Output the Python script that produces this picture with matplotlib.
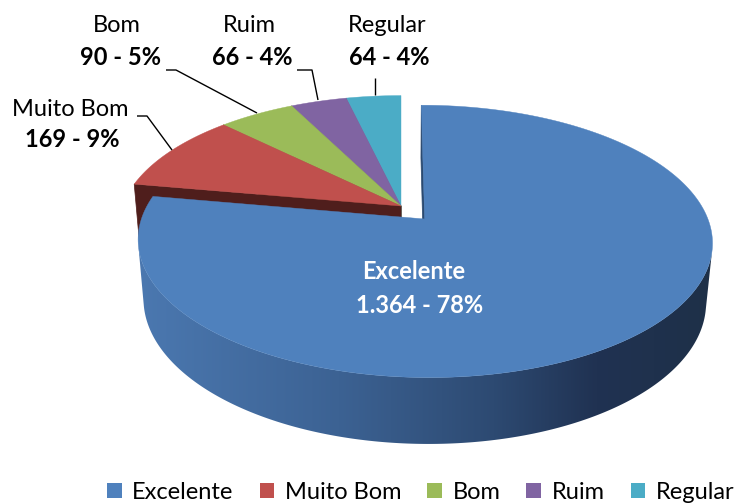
import numpy as np
import matplotlib
matplotlib.use("Agg")
import matplotlib.pyplot as plt
from matplotlib.patches import Polygon, Patch
from matplotlib.colors import LinearSegmentedColormap

# ---- data ----
categories = ["Excelente", "Muito Bom", "Bom", "Ruim", "Regular"]
values = [1364, 169, 90, 66, 64]
value_labels = ["1.364 - 78%", "169 - 9%", "90 - 5%", "66 - 4%", "64 - 4%"]
colors = ["#4F81BD", "#C0504D", "#9BBB59", "#8064A2", "#4BACC6"]
side_colors = ["#2B4A70", "#4F1E1C", "#5A6E33", "#4A3A60", "#2C6475"]

plt.rcParams['font.family'] = ['Lato', 'DejaVu Sans']

W, Hpx = 739, 504
fig = plt.figure(figsize=(W / 100, Hpx / 100), dpi=100)
ax = fig.add_axes([0, 0, 1, 1])
ax.set_xlim(0, W)
ax.set_ylim(Hpx, 0)
ax.axis('off')

# ---- 3D projection parameters ----
alpha = np.radians(27.4)
sa, ca = np.sin(alpha), np.cos(alpha)
D = 5.49
F = 1530.0
X0, Y0 = 401.0, 206.0
HGT = 0.24
EXPLODE = 0.13


def proj(X, Z, bottom=False):
    X = np.asarray(X, float)
    Z = np.asarray(Z, float)
    Y = -HGT if bottom else 0.0
    w = D + Z * ca - Y * sa
    v = Y * ca + Z * sa
    return X0 + F * X / w, Y0 - F * v / w


cam = np.array([0.0, D * sa, -D * ca])

# angles: start at 90 deg, go clockwise
fracs = np.array(values, float) / sum(values)
starts = 90 - 360 * np.concatenate([[0], np.cumsum(fracs)[:-1]])
ends = starts - 360 * fracs


def slice_center(i):
    if i != 0:
        return 0.0, 0.0
    mid = np.radians((starts[0] + ends[0]) / 2)
    return EXPLODE * np.cos(mid), EXPLODE * np.sin(mid)


def rim(i, th_deg, bottom=False):
    cx, cz = slice_center(i)
    th = np.radians(th_deg)
    return proj(cx + np.cos(th), cz + np.sin(th), bottom)


def top_poly(i):
    cx, cz = slice_center(i)
    th = np.linspace(starts[i], ends[i], 300)
    xs, ys = rim(i, th)
    px, py = proj(cx, cz)
    return np.column_stack([np.r_[px, xs], np.r_[py, ys]])


def radial_face(i, th_deg):
    cx, cz = slice_center(i)
    th = np.radians(th_deg)
    pts3 = [(cx, cz, False), (cx + np.cos(th), cz + np.sin(th), False),
            (cx + np.cos(th), cz + np.sin(th), True), (cx, cz, True)]
    return np.array([proj(X, Z, b) for X, Z, b in pts3], float)


def radial_visible(i, th_deg, is_max):
    cx, cz = slice_center(i)
    th = np.radians(th_deg)
    if is_max:
        n = np.array([-np.sin(th), 0, np.cos(th)])
    else:
        n = np.array([np.sin(th), 0, -np.cos(th)])
    p = np.array([cx + 0.5 * np.cos(th), -HGT / 2, cz + 0.5 * np.sin(th)])
    return np.dot(n, cam - p) > 0


def side_visible_range(i):
    cx, cz = slice_center(i)
    th = np.linspace(starts[i], ends[i], 2000)
    t = np.radians(th)
    P = np.column_stack([cx + np.cos(t), np.zeros_like(t), cz + np.sin(t)])
    N = np.column_stack([np.cos(t), np.zeros_like(t), np.sin(t)])
    vis = np.einsum('ij,ij->i', N, cam - P) > 0
    return th[vis]


# ---- back slices first (1..4), then exploded Excelente ----
order = [4, 3, 2, 1, 0]
for i in order:
    zb = 2 + (3 if i == 0 else 0)
    for th, is_max in [(starts[i], True), (ends[i], False)]:
        if radial_visible(i, th, is_max):
            ax.add_patch(Polygon(radial_face(i, th), closed=True,
                                 facecolor=side_colors[i], edgecolor=side_colors[i],
                                 lw=0.5, zorder=zb))
    th = side_visible_range(i)
    if len(th) > 1:
        xt, yt = rim(i, th)
        xb, yb = rim(i, th[::-1], bottom=True)
        side = np.column_stack([np.r_[xt, xb], np.r_[yt, yb]])
        poly = Polygon(side, closed=True, facecolor='none', edgecolor='none',
                       zorder=zb)
        ax.add_patch(poly)
        if i == 0:
            grad = np.linspace(0, 1, 256).reshape(1, -1)
            cmap = LinearSegmentedColormap.from_list(
                'side', [(0.0, '#4B78B0'), (0.35, '#3C6293'),
                         (0.62, '#2D4A72'), (0.8, '#203252'), (1.0, '#1E3048')])
            im = ax.imshow(grad, cmap=cmap, aspect='auto',
                           extent=[side[:, 0].min(), side[:, 0].max(),
                                   side[:, 1].max(), side[:, 1].min()],
                           zorder=zb, interpolation='bilinear')
            im.set_clip_path(poly)
        else:
            poly.set_facecolor(side_colors[i])
    ax.add_patch(Polygon(top_poly(i), closed=True, facecolor=colors[i],
                         edgecolor=colors[i], lw=0.3, zorder=zb + 1))
ax.set_xlim(0, W)
ax.set_ylim(Hpx, 0)

# ---- labels ----
fs = 17
ax.text(414, 279, categories[0], color='white', fontsize=fs, fontweight='bold',
        ha='center', va='baseline', zorder=10)
ax.text(420, 313, value_labels[0], color='white', fontsize=fs, fontweight='bold',
        ha='center', va='baseline', zorder=10)

outer = {1: (70, 116, 72, 147), 2: (117, 32, 121, 65),
         3: (249, 32, 252, 65), 4: (387, 32, 389, 65)}
for i, (x1, y1, x2, y2) in outer.items():
    ax.text(x1, y1, categories[i], fontsize=fs, ha='center', va='baseline',
            color='black', zorder=10)
    ax.text(x2, y2, value_labels[i], fontsize=fs, fontweight='bold',
            ha='center', va='baseline', color='black', zorder=10)

# leader lines
leaders = [
    ([137, 147, 172], [116, 116, 150]),
    ([166, 176, 257], [70, 70, 113]),
    ([297, 312, 318], [70, 70, 100]),
    ([375, 375], [78, 95]),
]
for lx, ly in leaders:
    ax.plot(lx, ly, color='black', lw=1.0, zorder=9, solid_capstyle='butt')

# ---- legend ----
handles = [Patch(facecolor=c, edgecolor='none') for c in colors]
leg = ax.legend(handles, categories, loc='lower left', ncol=5,
                bbox_to_anchor=(107, 503), bbox_transform=ax.transData,
                frameon=False, fontsize=fs, handlelength=0.62, handleheight=0.62,
                handletextpad=0.45, columnspacing=1.1, borderaxespad=0.0,
                borderpad=0.0)

fig.savefig('out.png', dpi=100)
